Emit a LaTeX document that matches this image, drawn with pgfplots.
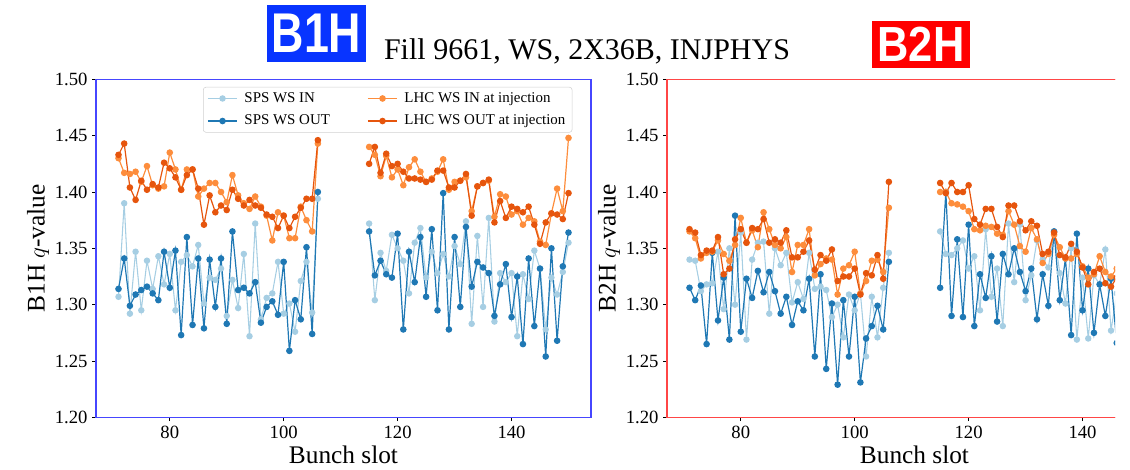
\documentclass[border=0pt]{standalone}
\usepackage{fontspec}
\setmainfont{Liberation Serif}
\newfontfamily\boxfont{Liberation Sans}
\usepackage{pgfplots}
\usepackage{pgfplotstable}
\pgfplotsset{compat=1.18}
\definecolor{spsin}{HTML}{A6CEE3}
\definecolor{spsout}{HTML}{1F78B4}
\definecolor{lhcin}{HTML}{FD8D3C}
\definecolor{lhcout}{HTML}{E6550D}
\definecolor{bframe}{RGB}{70,70,255}
\definecolor{rframe}{RGB}{255,70,70}
\definecolor{bbox}{RGB}{8,52,255}
\definecolor{rbox}{RGB}{255,0,0}

\pgfplotstableread{
slot spsin spsout lhcin lhcout
71 1.307 1.314 1.430 1.433
72 1.390 1.341 1.417 1.443
73 1.292 1.299 1.416 1.404
74 1.347 1.309 1.418 1.393
75 1.295 1.313 1.409 1.410
76 1.339 1.316 1.423 1.402
77 1.314 1.310 1.406 1.407
78 1.343 1.304 1.403 1.404
79 1.318 1.347 1.405 1.426
80 1.345 1.315 1.435 1.421
81 1.295 1.348 1.420 1.413
82 1.338 1.273 1.402 1.402
83 1.344 1.360 1.420 1.415
84 1.334 1.282 1.420 1.420
85 1.353 1.341 1.396 1.403
86 1.301 1.279 1.403 1.371
87 1.324 1.340 1.408 1.397
88 1.322 1.298 1.408 1.382
89 1.332 1.341 1.400 1.388
90 1.290 1.283 1.391 1.384
91 1.322 1.365 1.415 1.402
92 1.297 1.313 1.397 1.394
93 1.345 1.315 1.390 1.388
94 1.272 1.310 1.385 1.393
95 1.372 1.320 1.396 1.388
96 1.287 1.284 1.387 1.386
97 1.306 1.298 1.379 1.380
98 1.310 1.303 1.357 1.378
99 1.338 1.291 1.382 1.368
100 1.292 1.338 1.379 1.379
101 1.301 1.259 1.359 1.368
102 1.276 1.304 1.359 1.378
103 1.321 1.287 1.387 1.386
104 1.338 1.351 1.375 1.394
105 1.293 1.274 1.365 1.394
106 1.394 1.400 1.443 1.446
110 nan nan nan nan
115 1.372 1.365 1.440 1.425
116 1.304 1.326 1.433 1.440
117 1.346 1.339 1.414 1.417
118 1.330 1.327 1.432 1.434
119 1.362 1.324 1.413 1.423
120 1.350 1.363 1.420 1.425
121 1.339 1.278 1.406 1.418
122 1.310 1.347 1.422 1.412
123 1.355 1.320 1.429 1.412
124 1.368 1.360 1.418 1.411
125 1.324 1.307 1.409 1.409
126 1.347 1.367 1.412 1.411
127 1.328 1.295 1.418 1.419
128 1.345 1.399 1.429 1.419
129 1.325 1.278 1.402 1.404
130 1.352 1.360 1.409 1.404
131 1.336 1.298 1.410 1.410
132 1.374 1.369 1.413 1.416
133 1.283 1.316 1.383 1.379
134 1.361 1.338 1.405 1.405
135 1.298 1.333 1.408 1.408
136 1.377 1.328 1.410 1.411
137 1.285 1.290 1.378 1.373
138 1.328 1.318 1.398 1.392
139 1.320 1.336 1.396 1.377
140 1.328 1.289 1.380 1.387
141 1.272 1.325 1.383 1.385
142 1.327 1.265 1.371 1.382
143 1.305 1.341 1.377 1.387
144 1.348 1.281 1.374 1.371
145 1.332 1.332 1.356 1.354
146 1.278 1.254 1.353 1.373
147 1.324 1.350 1.381 1.381
148 1.309 1.268 1.403 1.380
149 1.329 1.334 1.383 1.376
150 1.355 1.364 1.448 1.399
}\bone

\pgfplotstableread{
slot spsin spsout lhcin lhcout
71 1.340 1.315 1.365 1.367
72 1.339 1.304 1.359 1.364
73 1.312 1.317 1.341 1.344
74 1.318 1.265 1.346 1.348
75 1.319 1.346 1.347 1.348
76 1.347 1.286 1.357 1.360
77 1.296 1.324 1.345 1.327
78 1.350 1.269 1.339 1.332
79 1.300 1.379 1.353 1.358
80 1.364 1.276 1.377 1.367
81 1.269 1.323 1.355 1.355
82 1.340 1.306 1.366 1.368
83 1.355 1.330 1.351 1.367
84 1.356 1.311 1.382 1.376
85 1.292 1.329 1.367 1.355
86 1.350 1.312 1.353 1.358
87 1.335 1.292 1.350 1.355
88 1.346 1.307 1.360 1.366
89 1.302 1.282 1.329 1.342
90 1.320 1.303 1.353 1.342
91 1.305 1.295 1.353 1.347
92 1.346 1.323 1.367 1.357
93 1.314 1.254 1.326 1.331
94 1.316 1.327 1.336 1.344
95 1.313 1.243 1.341 1.339
96 1.289 1.301 1.340 1.349
97 1.300 1.229 1.309 1.321
98 1.271 1.304 1.332 1.325
99 1.309 1.254 1.335 1.325
100 1.295 1.307 1.347 1.332
101 1.310 1.231 1.310 1.309
102 1.254 1.270 1.321 1.328
103 1.307 1.281 1.339 1.326
104 1.271 1.299 1.340 1.344
105 1.315 1.278 1.329 1.323
106 1.346 1.338 1.386 1.409
110 nan nan nan nan
115 1.365 1.315 1.400 1.408
116 1.345 1.400 1.400 1.399
117 1.344 1.290 1.390 1.408
118 1.350 1.358 1.389 1.400
119 1.357 1.289 1.387 1.400
120 1.332 1.371 1.383 1.406
121 1.343 1.281 1.367 1.376
122 1.295 1.327 1.366 1.371
123 1.367 1.306 1.370 1.385
124 1.307 1.343 1.369 1.385
125 1.332 1.285 1.363 1.369
126 1.281 1.345 1.362 1.360
127 1.372 1.327 1.383 1.388
128 1.320 1.350 1.371 1.388
129 1.371 1.329 1.352 1.374
130 1.304 1.312 1.347 1.366
131 1.326 1.332 1.368 1.374
132 1.357 1.287 1.358 1.370
133 1.340 1.327 1.337 1.345
134 1.333 1.299 1.345 1.347
135 1.365 1.365 1.362 1.364
136 1.328 1.304 1.351 1.344
137 1.301 1.341 1.341 1.342
138 1.350 1.273 1.341 1.354
139 1.269 1.363 1.345 1.347
140 1.324 1.295 1.334 1.333
141 1.270 1.332 1.324 1.318
142 1.326 1.275 1.327 1.329
143 1.318 1.318 1.343 1.332
144 1.349 1.290 1.329 1.319
145 1.277 1.323 1.325 1.316
146 1.310 1.266 1.332 1.324
147 1.310 1.345 1.353 1.336
}\btwo

\pgfplotsset{
  qpanel/.style={
    scale only axis, width=371.25pt, height=253.5pt,
    anchor=south west,
    xmin=67.05, xmax=153.95, ymin=1.2, ymax=1.5,
    xtick={80,100,120,140},
    ytick={1.20,1.25,1.30,1.35,1.40,1.45,1.50},
    yticklabel style={/pgf/number format/.cd, fixed, fixed zerofill, precision=2},
    /pgf/number format/assume math mode=true,
    tick label style={font=\fontsize{14}{16}\selectfont, black},
    tick align=outside, xtick pos=bottom, ytick pos=left,
    major tick length=2.8pt,
    every tick/.style={black, line width=0.6pt},
    unbounded coords=jump,
    clip=true,
    every axis x label/.style={at={(axis description cs:0.5,0)}, anchor=center, yshift=-28.3pt, font=\fontsize{19}{22}\selectfont},
    every axis y label/.style={at={(axis description cs:0,0.5)}, xshift=-43.5pt, anchor=center, rotate=90, font=\fontsize{19}{22}\selectfont},
    xlabel={Bunch slot},
  },
  sps in/.style={spsin, line width=0.8pt, mark=*, mark size=2pt, mark options={solid, fill=spsin, draw=spsin}},
  sps out/.style={spsout, line width=0.9pt, mark=*, mark size=2pt, mark options={solid, fill=spsout, draw=spsout}},
  lhc in/.style={lhcin, line width=0.9pt, mark=*, mark size=2pt, mark options={solid, fill=lhcin, draw=lhcin}},
  lhc out/.style={lhcout, line width=0.9pt, mark=*, mark size=2pt, mark options={solid, fill=lhcout, draw=lhcout}},
}

\begin{document}
\begin{tikzpicture}
% left panel: B1H
\begin{axis}[qpanel, name=L, at={(72pt,39.5pt)},
  axis line style={bframe, line width=1pt},
  ylabel={B1H $q$-value},
  legend columns=2, transpose legend,
  legend cell align=left,
  legend image code/.code={\draw[mark repeat=2, mark phase=2] plot coordinates {(0pt,0pt) (11pt,0pt) (22pt,0pt)};},
  legend style={at={(1,1)}, anchor=north east, xshift=-14pt, yshift=-5.7pt,
    draw=black!18, rounded corners=2pt, fill=white,
    font=\fontsize{11.2}{13}\selectfont, row sep=4pt,
    /tikz/every odd column/.append style={column sep=3pt},
    /tikz/every even column/.append style={column sep=26pt}},
]
\addplot[sps in] table[x=slot, y=spsin] {\bone};
\addlegendentry{SPS WS IN}
\addplot[sps out] table[x=slot, y=spsout] {\bone};
\addlegendentry{SPS WS OUT}
\addplot[lhc in] table[x=slot, y=lhcin] {\bone};
\addlegendentry{LHC WS IN at injection}
\addplot[lhc out] table[x=slot, y=lhcout] {\bone};
\addlegendentry{LHC WS OUT at injection}
\end{axis}
\draw[bframe, line width=1.1pt, line cap=rect] (L.south west) -- (L.south east) -- (L.north east) -- (L.north west) -- cycle;

% right panel: B2H (cut at the right edge as in the reference)
\begin{scope}
\clip (0pt,0pt) rectangle (836.25pt,352.5pt);
\begin{axis}[qpanel, name=R, at={(500.25pt,39.5pt)},
  axis line style={rframe, line width=1pt},
  ylabel={B2H $q$-value},
]
\addplot[sps in] table[x=slot, y=spsin] {\btwo};
\addplot[sps out] table[x=slot, y=spsout] {\btwo};
\addplot[lhc in] table[x=slot, y=lhcin] {\btwo};
\addplot[lhc out] table[x=slot, y=lhcout] {\btwo};
\end{axis}
\draw[rframe, line width=1.1pt, line cap=rect] (R.south west) -- (R.south east) -- (R.north east) -- (R.north west) -- cycle;
\end{scope}

% titles
\node[font=\fontsize{22.5}{26}\selectfont, anchor=base] at (440.25pt,307.5pt) {Fill 9661, WS, 2X36B, INJPHYS};
\node[fill=bbox, text=white, minimum width=74.25pt, minimum height=43pt, inner sep=0pt,
      font=\boxfont\bfseries\fontsize{42}{42}\selectfont] at (237.4pt,327.4pt) {\scalebox{0.8}[1]{B1H}};
\node[fill=rbox, text=white, minimum width=73.5pt, minimum height=35.5pt, inner sep=0pt,
      font=\boxfont\bfseries\fontsize{37}{37}\selectfont] at (690.75pt,319.1pt) {\scalebox{0.88}[1]{B2H}};

\pgfresetboundingbox
\useasboundingbox (0pt,0pt) rectangle (847.5pt,352.5pt);
\end{tikzpicture}
\end{document}
